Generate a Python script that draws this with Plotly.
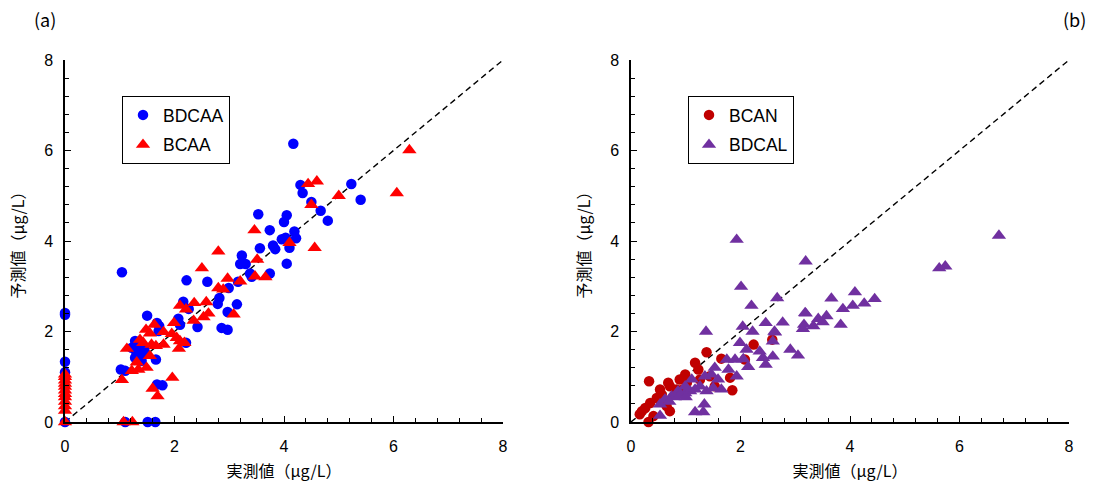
import plotly.graph_objects as go

# ---- Data ----
ticks = [0, 2, 4, 6, 8]
diag = [0, 8]

bdcaa_x = [4.17,4.30,4.34,5.23,5.40,4.50,4.67,4.80,3.53,4.05,4.00,3.74,4.19,4.22,3.96,4.03,4.10,3.56,3.80,3.84,
           4.05,3.23,3.20,3.30,3.74,3.38,3.41,2.99,3.16,2.82,2.79,3.14,2.97,2.86,2.97,2.60,2.22,2.16,2.26,2.42,
           2.07,2.10,2.21,1.50,1.68,1.72,1.71,1.28,1.34,1.39,1.28,1.40,1.66,1.04,1.02,1.10,1.68,1.78,0,0,
           0,0,0,1.10,1.51,1.65,1.22,1.46,1.35,1.45,1.30]
bdcaa_y = [6.15,5.24,5.06,5.26,4.91,4.86,4.67,4.45,4.59,4.57,4.42,4.24,4.21,4.06,4.04,4.07,3.85,3.84,3.90,3.82,
           3.50,3.68,3.49,3.49,3.28,3.28,3.21,2.96,3.10,2.74,2.61,2.60,2.43,2.08,2.04,3.10,3.13,2.66,2.50,2.10,
           2.28,2.15,1.75,2.35,2.19,2.12,2.01,1.79,1.68,1.57,1.42,1.35,1.38,3.31,1.16,1.13,0.83,0.81,2.41,2.37,
           1.33,1.10,0,0,0,0,1.64,1.53,1.50,1.62,1.55]

bcaa_x = [6.29,6.06,4.44,4.60,4.50,5.00,3.46,4.10,4.56,2.80,3.51,2.50,3.47,3.66,2.97,3.20,2.80,2.89,2.10,2.21,
          2.36,2.58,2.62,2.53,2.35,3.08,1.99,1.95,2.04,2.10,2.18,2.08,1.80,1.80,1.63,1.48,1.55,1.37,1.43,1.58,
          1.66,1.13,1.31,1.55,1.49,1.34,1.22,1.04,1.96,1.60,1.69,1.07,1.23,
          0,0,0,0,0,0,0,0,0,0,0,0]
bcaa_y = [6.01,5.06,5.26,5.32,4.80,5.00,4.24,3.96,3.85,3.77,3.59,3.40,3.22,3.20,3.17,3.11,2.96,2.93,2.57,2.49,
          2.63,2.65,2.40,2.32,2.24,2.38,2.19,1.95,1.86,1.79,1.75,1.62,1.99,1.71,2.15,2.04,1.96,1.82,1.75,1.71,
          1.68,1.62,1.32,1.46,1.20,1.16,1.13,0.93,0.98,0.74,0.57,0,0,
          0,0.25,0.35,0.45,0.55,0.62,0.70,0.78,0.85,0.92,1.00,1.05]

bcan_x = [0.33,2.24,2.58,1.38,1.65,1.17,0.99,1.85,1.81,2.08,0.68,0.71,0.89,0.83,0.56,0.47,0.35,0.26,0.20,0.16,
          0.32,0.41,0.71,0.65,1.26,1.44,1.53,1.02,0.53,0.95,1.23]
bcan_y = [0.90,1.71,1.82,1.54,1.40,1.31,1.05,0.70,0.98,1.38,0.87,0.79,0.94,0.72,0.61,0.53,0.42,0.31,0.24,0.17,
          0.00,0.13,0.24,0.35,0.94,1.01,0.79,0.87,0.72,0.72,1.16]

bdcal_x = [6.72,5.63,5.74,3.19,1.93,2.01,2.67,3.66,4.09,4.45,4.26,4.05,3.87,3.57,3.42,3.50,3.33,3.19,3.16,3.14,
           3.83,2.77,2.46,2.63,2.59,2.91,3.05,2.22,2.20,2.35,2.59,2.46,1.37,2.04,2.62,3.18,1.99,2.11,2.41,1.75,
           1.90,2.05,2.14,1.93,1.78,1.53,1.47,1.59,1.65,1.35,1.26,1.17,1.08,0.99,0.86,0.74,0.62,0.53,1.38,1.34,
           1.32,1.17,0.53,1.11,0.99,1.50,0.80,0.90,1.00,0.70]
bdcal_y = [4.12,3.40,3.44,3.55,4.03,2.99,2.74,2.73,2.87,2.72,2.62,2.57,2.50,2.34,2.28,2.21,2.12,2.40,2.15,2.06,
           2.15,2.20,2.19,1.98,1.78,1.60,1.47,2.00,2.57,1.56,1.45,1.27,2.00,2.11,2.00,2.41,1.75,1.60,1.42,1.38,
           1.38,1.39,1.22,1.01,1.16,1.20,1.05,0.94,0.72,1.01,0.79,0.72,0.68,0.64,0.68,0.57,0.50,0.39,0.68,0.39,
           0.22,0.22,0.14,0.94,0.79,0.75,0.55,0.60,0.55,0.45]

W, H = 1101, 488
TXT = "Liberation Sans, Arial, sans-serif"
JP = "Noto Sans CJK JP, sans-serif"

fig = go.Figure()

# diagonal lines
for xa, ya in (("x", "y"), ("x2", "y2")):
    fig.add_trace(go.Scatter(x=diag, y=diag, mode="lines", line=dict(color="black", width=1.4, dash="6px,4px"),
                             showlegend=False, hoverinfo="skip", xaxis=xa, yaxis=ya))

fig.add_trace(go.Scatter(x=bdcaa_x, y=bdcaa_y, mode="markers", name="BDCAA",
                         marker=dict(symbol="circle", size=10.5, color="#0000FF"),
                         xaxis="x", yaxis="y", legend="legend", legendgroup="a1", cliponaxis=False))
fig.add_trace(go.Scatter(x=bcaa_x, y=bcaa_y, mode="markers", name="BCAA",
                         marker=dict(symbol="triangle-up", size=12.5, color="#FF0000"),
                         xaxis="x", yaxis="y", legend="legend", legendgroup="a2", cliponaxis=False))
fig.add_trace(go.Scatter(x=bcan_x, y=bcan_y, mode="markers", name="BCAN",
                         marker=dict(symbol="circle", size=10.5, color="#C00000"),
                         xaxis="x2", yaxis="y2", legend="legend2", legendgroup="b1", cliponaxis=False))
fig.add_trace(go.Scatter(x=bdcal_x, y=bdcal_y, mode="markers", name="BDCAL",
                         marker=dict(symbol="triangle-up", size=12.5, color="#7030A0"),
                         xaxis="x2", yaxis="y2", legend="legend2", legendgroup="b2", cliponaxis=False))

def ax(domain, anchor, title, standoff, lab_off):
    return dict(domain=domain, anchor=anchor, range=[0, 8], tickvals=ticks, ticktext=[str(t) for t in ticks],
                ticks="inside", ticklen=6, tickwidth=1.3, tickcolor="black", ticklabelstandoff=lab_off,
                minor=dict(dtick=0.4, ticks="inside", ticklen=4, tickwidth=1.3, tickcolor="black"),
                showline=True, linecolor="black", linewidth=1.5, showgrid=False, zeroline=False,
                tickfont=dict(family=TXT, size=16, color="black"), automargin=False,
                title=dict(text=title, font=dict(family=JP, size=16, color="black"), standoff=standoff),
                fixedrange=True)

xd1 = [65 / W, 503 / W]
xd2 = [631 / W, 1069 / W]
yd = [(H - 422) / H, (H - 60) / H]

leg = dict(xanchor="left", yanchor="top", bordercolor="black", borderwidth=1, bgcolor="white",
           font=dict(family=TXT, size=17.5, color="black"), tracegroupgap=4, itemwidth=30)

fig.update_layout(
    width=W, height=H, plot_bgcolor="white", paper_bgcolor="white",
    margin=dict(l=0, r=0, t=0, b=0),
    xaxis=ax(xd1, "y", "実測値（μg/L）", 12, 9),
    yaxis=ax(yd, "x", "予測値（μg/L）", 16, 7),
    xaxis2=ax(xd2, "y2", "実測値（μg/L）", 12, 9),
    yaxis2=ax(yd, "x2", "予測値（μg/L）", 16, 7),
    legend=dict(leg, x=122 / W, y=1 - 96 / H),
    legend2=dict(leg, x=688 / W, y=1 - 96 / H),
    annotations=[
        dict(text="(a)", x=45 / W, y=1 - 19 / H, xref="paper", yref="paper", showarrow=False,
             xanchor="center", yanchor="middle", font=dict(family=JP, size=18, color="black")),
        dict(text="(b)", x=1074 / W, y=1 - 19 / H, xref="paper", yref="paper", showarrow=False,
             xanchor="center", yanchor="middle", font=dict(family=JP, size=18, color="black")),
    ],
)

fig.write_html("out.html", config={"displayModeBar": False},
               post_script="document.body.style.margin='0';document.body.style.padding='0';")
